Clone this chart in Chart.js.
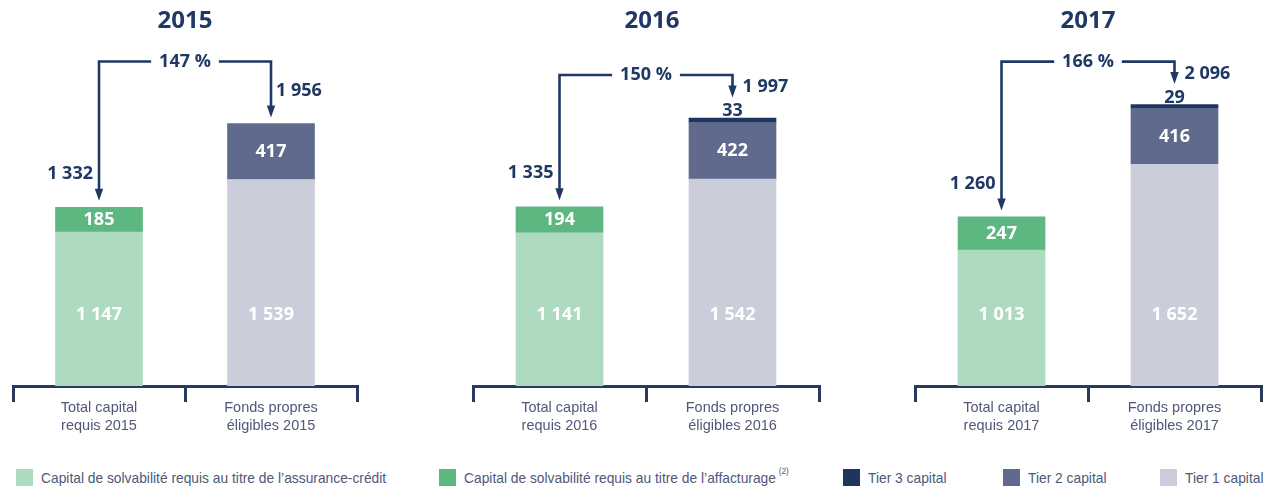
<!DOCTYPE html>
<html>
<head>
<meta charset="utf-8">
<title>Solvabilité – couverture du capital requis</title>
<script src="https://cdn.jsdelivr.net/npm/chart.js@4.4.1/dist/chart.umd.min.js"></script>
<style>
  html, body { margin: 0; padding: 0; background: #fff; width: 1268px; height: 488px; overflow: hidden; }
  canvas.panel { position: absolute; top: 0; }
  #legend { position: absolute; left: 0; top: 466px; width: 1268px; height: 22px;
            font-family: "Liberation Sans", Arial, sans-serif;
            font-size: 15px; color: #4f5878; }
  #legend .item { position: absolute; top: 2px; height: 18px; display: flex; align-items: center; white-space: nowrap; }
  #legend .sw { width: 17px; height: 17px; margin-right: 8px; flex: none; }
  #legend .txt { display: inline-block; transform: scaleX(0.92); transform-origin: left center; }
  #legend sup { font-size: 9px; position: relative; top: -3px; margin-left: 3px; }
</style>
</head>
<body>
<canvas id="p2015" class="panel" width="372" height="450" style="left:0px"></canvas>
<canvas id="p2016" class="panel" width="374" height="450" style="left:459px"></canvas>
<canvas id="p2017" class="panel" width="368" height="450" style="left:900px"></canvas>
<div id="legend"></div>

<script>
// ---- data (millions d'euros) ----
const years = ['2015', '2016', '2017'];
const requiredLabel = ['Total capital', 'requis'];
const eligibleLabel = ['Fonds propres', 'éligibles'];
const creditInsurance = [1147, 1141, 1013];   // capital requis – assurance-crédit
const factoring       = [185, 194, 247];      // capital requis – affacturage
const tier1           = [1539, 1542, 1652];
const tier2           = [417, 422, 416];
const tier3           = [null, 33, 29];
const requiredTotal   = [1332, 1335, 1260];
const eligibleTotal   = [1956, 1997, 2096];
const coverageRatio   = [147, 150, 166];      // %
const seriesNames = [
  'Capital de solvabilité requis au titre de l’assurance-crédit',
  'Capital de solvabilité requis au titre de l’affacturage',
  'Tier 3 capital',
  'Tier 2 capital',
  'Tier 1 capital'
];
const seriesNotes = ['', '(2)', '', '', ''];

// ---- styling ----
const NAVY = '#1f3864';
const AXIS = '#283a62';
const TEXT_GREY = '#4f5878';
const COLORS = {
  credit: '#aedbbf',
  factoring: '#5cb781',
  tier3: '#1e3560',
  tier2: '#5f6a8d',
  tier1: '#cbcdda'
};
const LABEL_FONT = 'bold 18px "Open Sans", "Liberation Sans", sans-serif';
const Y_MAX = 2580;

const fmt = n => String(n).replace(/\B(?=(\d{3})+(?!\d))/g, ' ');

// value labels on the stacked segments
const segmentLabels = {
  id: 'segmentLabels',
  afterDatasetsDraw(chart) {
    const ctx = chart.ctx;
    ctx.save();
    ctx.font = LABEL_FONT;
    ctx.textAlign = 'center';
    ctx.textBaseline = 'middle';
    chart.data.datasets.forEach((ds, i) => {
      const meta = chart.getDatasetMeta(i);
      meta.data.forEach((bar, j) => {
        const v = ds.data[j];
        if (v == null) return;
        const { x, y, base } = bar.getProps(['x', 'y', 'base'], true);
        let ty = (y + base) / 2;
        ctx.fillStyle = '#fff';
        if (ds.labelPlace === 'foot') ty = base - 71;
        if (ds.labelPlace === 'above') { ty = y - 7; ctx.fillStyle = NAVY; }
        ctx.fillText(fmt(v), x, ty);
      });
    });
    ctx.restore();
  }
};

// bracket arrow from required capital to eligible own funds, with the ratio
const coverageArrows = {
  id: 'coverageArrows',
  afterDatasetsDraw(chart, args, o) {
    const ctx = chart.ctx;
    const xs = chart.scales.x, ys = chart.scales.y;
    const xL = xs.getPixelForValue(0), xR = xs.getPixelForValue(1);
    const xM = (xL + xR) / 2;
    const reqTop = ys.getPixelForValue(o.required);
    const eligTop = Math.min(...chart.data.datasets.map((ds, i) => {
      const el = chart.getDatasetMeta(i).data[1];
      return ds.data[1] == null ? Infinity : el.getProps(['y'], true).y;
    }));
    const topY = eligTop - o.rise;
    const tipL = reqTop - 6.5;
    const tipR = eligTop - (o.hasTier3 ? 20.5 : 6);
    const head = 12, hw = 4.2;

    ctx.save();
    ctx.font = LABEL_FONT;
    const pct = o.ratio + ' %';
    const gap = ctx.measureText(pct).width / 2 + 8;

    ctx.strokeStyle = NAVY;
    ctx.lineWidth = 2.6;
    ctx.lineJoin = 'miter';
    ctx.beginPath();
    ctx.moveTo(xL, tipL - head + 1);
    ctx.lineTo(xL, topY);
    ctx.lineTo(xM - gap, topY);
    ctx.moveTo(xM + gap, topY);
    ctx.lineTo(xR, topY);
    ctx.lineTo(xR, tipR - head + 1);
    ctx.stroke();

    ctx.fillStyle = NAVY;
    [[xL, tipL], [xR, tipR]].forEach(([x, t]) => {
      ctx.beginPath();
      ctx.moveTo(x - hw, t - head);
      ctx.lineTo(x + hw, t - head);
      ctx.lineTo(x, t);
      ctx.closePath();
      ctx.fill();
    });

    ctx.textBaseline = 'middle';
    ctx.textAlign = 'center';
    ctx.fillText(pct, xM, topY);

    ctx.textAlign = 'right';
    ctx.fillText(fmt(o.required), xL - 6, tipL - 27);

    const ry = (topY + tipR) / 2 + 1;
    const nearHead = ry > tipR - head - 4;
    ctx.textAlign = 'left';
    ctx.fillText(fmt(o.eligible), xR + (nearHead ? 10 : 5), ry);
    ctx.restore();
  }
};

// horizontal nudge for a panel title
const titleShift = {
  id: 'titleShift',
  afterLayout(chart, args, o) {
    if (o.dx && chart.titleBlock) {
      chart.titleBlock.left += o.dx;
      chart.titleBlock.right += o.dx;
    }
  }
};

const panelLayout = [
  { id: 'p2015', pad: { left: 13, right: 15 }, rise: 62, dx: 0 },
  { id: 'p2016', pad: { left: 14, right: 14 }, rise: 43, dx: 6 },
  { id: 'p2017', pad: { left: 15, right: 7 }, rise: 43, dx: 0 }
];

years.forEach((yr, k) => {
  const L = panelLayout[k];
  new Chart(document.getElementById(L.id), {
    type: 'bar',
    data: {
      labels: [[requiredLabel[0], requiredLabel[1] + ' ' + yr], [eligibleLabel[0], eligibleLabel[1] + ' ' + yr]],
      datasets: [
        { label: seriesNames[0], data: [creditInsurance[k], null], backgroundColor: COLORS.credit, labelPlace: 'foot' },
        { label: seriesNames[1], data: [factoring[k], null], backgroundColor: COLORS.factoring, labelPlace: 'middle' },
        { label: seriesNames[4], data: [null, tier1[k]], backgroundColor: COLORS.tier1, labelPlace: 'foot' },
        { label: seriesNames[3], data: [null, tier2[k]], backgroundColor: COLORS.tier2, labelPlace: 'middle' },
        { label: seriesNames[2], data: [null, tier3[k]], backgroundColor: COLORS.tier3, labelPlace: 'above' }
      ]
    },
    options: {
      responsive: false,
      animation: false,
      devicePixelRatio: 1,
      barThickness: 87,
      layout: { padding: { left: L.pad.left, right: L.pad.right, top: 0, bottom: 0 } },
      scales: {
        x: {
          stacked: true,
          z: 1,
          afterFit(s) { s.height = 64; },
          border: { display: true, color: AXIS, width: 3 },
          grid: { display: true, drawOnChartArea: false, drawTicks: true, offset: true,
                  tickLength: 16, tickWidth: 3, tickColor: AXIS, color: AXIS, lineWidth: 3 },
          ticks: { padding: -3, color: TEXT_GREY, maxRotation: 0, autoSkip: false,
                   font: { family: '"Liberation Sans", Arial, sans-serif', size: 14.5, lineHeight: 1.22 } }
        },
        y: { stacked: true, display: false, min: 0, max: Y_MAX }
      },
      plugins: {
        legend: { display: false },
        tooltip: { enabled: false },
        title: { display: true, text: yr, color: NAVY,
                 font: { family: '"Open Sans", "Liberation Sans", sans-serif', size: 24, weight: 'bold', lineHeight: 1.2 },
                 padding: { top: 7, bottom: 4 } },
        titleShift: { dx: L.dx },
        coverageArrows: { required: requiredTotal[k], eligible: eligibleTotal[k], ratio: coverageRatio[k],
                          rise: L.rise, hasTier3: tier3[k] != null }
      }
    },
    plugins: [segmentLabels, coverageArrows, titleShift]
  });
});

// legend row
const legendOrder = [
  { name: seriesNames[0], note: seriesNotes[0], color: COLORS.credit, left: 16 },
  { name: seriesNames[1], note: seriesNotes[1], color: COLORS.factoring, left: 439 },
  { name: seriesNames[2], note: seriesNotes[2], color: COLORS.tier3, left: 843 },
  { name: seriesNames[3], note: seriesNotes[3], color: COLORS.tier2, left: 1003 },
  { name: seriesNames[4], note: seriesNotes[4], color: COLORS.tier1, left: 1160 }
];
const legendEl = document.getElementById('legend');
legendOrder.forEach(it => {
  const d = document.createElement('div');
  d.className = 'item';
  d.style.left = it.left + 'px';
  const sw = document.createElement('span');
  sw.className = 'sw';
  sw.style.background = it.color;
  d.appendChild(sw);
  const t = document.createElement('span');
  t.className = 'txt';
  t.textContent = it.name;
  if (it.note) {
    const s = document.createElement('sup');
    s.textContent = it.note;
    t.appendChild(s);
  }
  d.appendChild(t);
  legendEl.appendChild(d);
});
</script>
</body>
</html>
